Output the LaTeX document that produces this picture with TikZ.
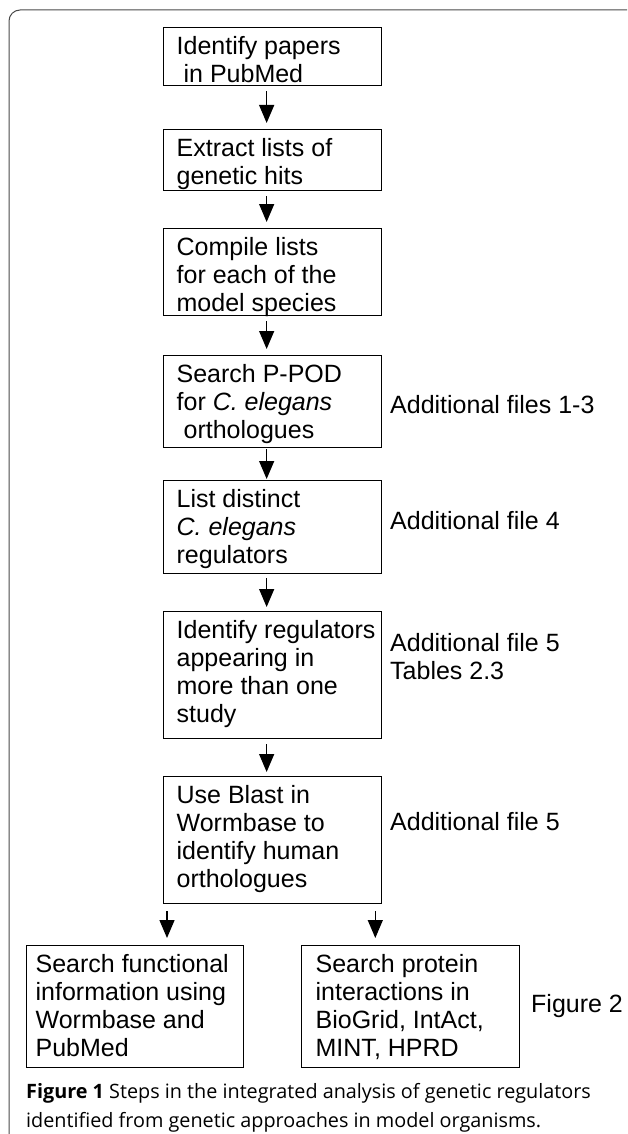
\documentclass[tikz,border=0pt]{standalone}
\usepackage{fontspec}
\setmainfont{Liberation Sans}
\newfontfamily\capfont{Open Sans}
\usetikzlibrary{positioning,arrows.meta}
\definecolor{framegray}{HTML}{4A4A4A}
\newcommand{\boxfont}{\fontsize{25}{28}\selectfont}
% box text: height, width, left inset, lines
\newcommand{\boxtext}[4]{\parbox[c][#1pt][t]{#2pt}{\raggedright\leftskip=#3pt\vspace*{7.4pt}\strut#4}}

\begin{document}
\begin{tikzpicture}[x=1pt,y=-1pt,
      every node/.style={font=\boxfont},
      stepbox/.style={draw,line width=1.3pt,inner sep=0pt,anchor=north west},
      note/.style={anchor=base west,inner sep=0pt},
      arr/.style={-{Triangle[length=18pt,width=15pt]},line width=1.3pt}]
    \useasboundingbox (0,0) rectangle (627,1134);
    \clip (0,0) rectangle (627,1134);
    % outer frame, cut at the right and bottom
    \draw[framegray,line width=1pt,rounded corners=11pt] (9,10) rectangle (660,1170);
    % main column
    \node[stepbox] (papers) at (163,27) {\boxtext{58}{218}{13}{Identify papers\\\hspace*{7pt}in PubMed}};
    \node[stepbox] (hits) at (163,129) {\boxtext{61}{218}{13}{Extract lists of\\genetic hits}};
    \node[stepbox] (lists) at (163,228) {\boxtext{87}{218}{13}{Compile lists\\for each of the\\model species}};
    \node[stepbox] (ppod) at (163,355) {\boxtext{92}{218}{13}{Search P-POD\\for \textit{C. elegans}\\\hspace*{7pt}orthologues}};
    \node[stepbox] (distinct) at (163,480) {\boxtext{93}{218}{13}{List distinct\\\textit{C. elegans}\\regulators}};
    \node[stepbox] (regs) at (163,611) {\boxtext{127}{218}{13}{Identify regulators\\appearing in\\more than one\\study}};
    \node[stepbox] (blast) at (163,776) {\boxtext{127}{218}{13}{Use Blast in\\Wormbase to\\identify human\\orthologues}};
    % two final steps
    \node[stepbox] (func) at (26,945) {\boxtext{122}{217}{9}{Search functional\\information using\\Wormbase and\\PubMed}};
    \node[stepbox] (inter) at (301,945) {\boxtext{122}{218}{14}{Search protein\\interactions in\\BioGrid, IntAct,\\MINT, HPRD}};
    % side notes
    \node[note] (noteppod) at (390,413) {Additional files 1-3};
    \node[note] (notedist) at (390,529) {Additional file 4};
    \node[note,align=left] (noteregs) at (390,679) {Additional file 5\\Tables 2.3};
    \node[note] (noteblast) at (390,830) {Additional file 5};
    \node[note] (noteinter) at (531,1012) {Figure 2};
    % arrows down the column
    \draw[arr] ([xshift=-6pt,yshift=-5pt]papers.south) -- ([xshift=-6pt,yshift=6pt]hits.north);
    \draw[arr] ([xshift=-6pt,yshift=-5pt]hits.south) -- ([xshift=-6pt,yshift=6pt]lists.north);
    \draw[arr] ([xshift=-6pt,yshift=-5pt]lists.south) -- ([xshift=-6pt,yshift=6pt]ppod.north);
    \draw[arr] ([xshift=-6pt,yshift=-1pt]ppod.south) -- ([xshift=-6pt,yshift=1pt]distinct.north);
    \draw[arr] ([xshift=-6pt,yshift=-4pt]distinct.south) -- ([xshift=-6pt,yshift=4pt]regs.north);
    \draw[arr] ([xshift=-6pt,yshift=-5pt]regs.south) -- ([xshift=-6pt,yshift=4pt]blast.north);
    \draw[arr] ([xshift=4pt,yshift=-7pt]blast.south west) -- ([xshift=4pt,yshift=7pt]blast.south west |- func.north);
    \draw[arr] ([xshift=-7pt,yshift=-7pt]blast.south east) -- ([xshift=-7pt,yshift=7pt]blast.south east |- inter.north);
    % caption
    \node[anchor=north west,inner sep=0pt,align=left,font=\capfont\fontsize{19.8}{29}\selectfont] (caption) at (26,1083)
      {\textbf{Figure 1} Steps in the integrated analysis of genetic regulators\\identified from genetic approaches in model organisms.};
\end{tikzpicture}
\end{document}
